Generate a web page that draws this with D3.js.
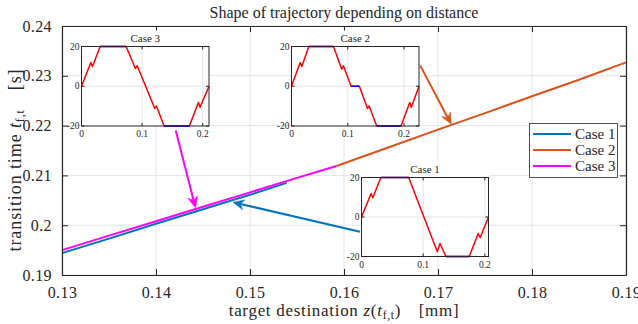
<!DOCTYPE html>
<html>
<head>
<meta charset="utf-8">
<script src="https://cdn.jsdelivr.net/npm/d3@7"></script>
<style>
  body { margin: 0; background: #fff; }
  svg { display: block; }
</style>
</head>
<body>
<svg id="chart" width="638" height="324"></svg>
<script>
// Transition time [s] against target destination [mm], one series per case
const case1Z = [0.130, 0.135, 0.140, 0.145, 0.150, 0.1539];
const case1T = [0.1944, 0.1973, 0.2003, 0.2032, 0.2061, 0.2085];
const case2Z = [0.1592, 0.165, 0.170, 0.175, 0.180, 0.185, 0.190];
const case2T = [0.2119, 0.2158, 0.2192, 0.2225, 0.2259, 0.2292, 0.2327];
const case3Z = [0.130, 0.135, 0.140, 0.145, 0.150, 0.155, 0.1592];
const case3T = [0.1950, 0.1979, 0.2008, 0.2037, 0.2066, 0.2095, 0.2119];

const seriesNames = ["Case 1", "Case 2", "Case 3"];
const seriesColors = ["#0072BD", "#D95319", "#FF00FF"];

const xTickValues = [0.13, 0.14, 0.15, 0.16, 0.17, 0.18, 0.19];
const xTickLabels = ["0.13", "0.14", "0.15", "0.16", "0.17", "0.18", "0.19"];
const yTickValues = [0.19, 0.20, 0.21, 0.22, 0.23, 0.24];
const yTickLabels = ["0.19", "0.2", "0.21", "0.22", "0.23", "0.24"];

// Trajectory shapes shown in the small panels (time [s], value)
const traj1Time = [0, 0.0156, 0.0183, 0.0313, 0.0765, 0.1229, 0.1272, 0.1369, 0.1747, 0.1892, 0.1925, 0.2059];
const traj1Val  = [0, 11.9, 9.7, 20, 20, -17.6, -13.4, -20, -20, -8.4, -10.4, 0];
const traj2Time = [0, 0.0154, 0.0183, 0.0308, 0.0746, 0.0893, 0.0923, 0.1059, 0.1207, 0.1349, 0.1379, 0.1515, 0.1947, 0.2101, 0.2130, 0.2266];
const traj2Val  = [0, 11.9, 9.9, 20, 20, 8.6, 10.3, 0, 0, -11.2, -9.9, -20, -20, -8.2, -10.6, 0];
const traj3Time = [0, 0.0154, 0.0181, 0.0308, 0.0736, 0.0890, 0.0918, 0.1209, 0.1236, 0.1363, 0.1780, 0.1929, 0.1956, 0.2104];
const traj3Val  = [0, 11.9, 9.9, 20, 20, 8.9, 10.4, -11.2, -9.9, -20, -20, -8.2, -10.6, 0];

const insetXTicks = [0, 0.1, 0.2];
const insetXLabels = ["0", "0.1", "0.2"];
const insetYTicks = [-20, 0, 20];
const insetYLabels = ["-20", "0", "20"];

// Arrow annotations in data units: [start, tip]
const arrowCase1 = [[0.1617, 0.1987], [0.1482, 0.2046]];
const arrowCase2 = [[0.1681, 0.2321], [0.1714, 0.2203]];
const arrowCase3 = [[0.1421, 0.2190], [0.1442, 0.2035]];

const W = 638, H = 324;
const m = { left: 62, right: 12, top: 26, bottom: 49 };
const FONT = '"Liberation Serif", "Times New Roman", Times, "DejaVu Serif", serif';
const svg = d3.select("#chart");

const x = d3.scaleLinear().domain([0.13, 0.19]).range([m.left, W - m.right]);
const y = d3.scaleLinear().domain([0.19, 0.24]).range([H - m.bottom, m.top]);

const axisColor = "#262626";
const gridColor = "#e3e3e3";

// grid
const grid = svg.append("g");
grid.selectAll(".gx").data(xTickValues).join("line")
  .attr("x1", d => x(d)).attr("x2", d => x(d))
  .attr("y1", m.top).attr("y2", H - m.bottom)
  .attr("stroke", gridColor).attr("stroke-width", 1);
grid.selectAll(".gy").data(yTickValues).join("line")
  .attr("x1", m.left).attr("x2", W - m.right)
  .attr("y1", d => y(d)).attr("y2", d => y(d))
  .attr("stroke", gridColor).attr("stroke-width", 1);

// series lines
const line = d3.line().x(d => x(d[0])).y(d => y(d[1]));
const series = [
  d3.zip(case1Z, case1T),
  d3.zip(case2Z, case2T),
  d3.zip(case3Z, case3T)
];
series.forEach((s, i) => {
  svg.append("path").datum(s).attr("d", line)
    .attr("fill", "none").attr("stroke", seriesColors[i])
    .attr("stroke-width", 2);
});

// axes (ticks inward on all four sides)
const tickLen = 6;
const axB = svg.append("g").attr("transform", `translate(0,${H - m.bottom})`)
  .call(d3.axisBottom(x).tickValues(xTickValues).tickFormat((d, i) => xTickLabels[i])
    .tickSizeInner(-tickLen).tickSizeOuter(0).tickPadding(12));
const axT = svg.append("g").attr("transform", `translate(0,${m.top})`)
  .call(d3.axisTop(x).tickValues(xTickValues).tickFormat("")
    .tickSizeInner(-tickLen).tickSizeOuter(0));
const axL = svg.append("g").attr("transform", `translate(${m.left},0)`)
  .call(d3.axisLeft(y).tickValues(yTickValues).tickFormat((d, i) => yTickLabels[i])
    .tickSizeInner(-tickLen).tickSizeOuter(0).tickPadding(10));
const axR = svg.append("g").attr("transform", `translate(${W - m.right},0)`)
  .call(d3.axisRight(y).tickValues(yTickValues).tickFormat("")
    .tickSizeInner(-tickLen).tickSizeOuter(0));
[axB, axT, axL, axR].forEach(a => {
  a.attr("font-family", null).attr("font-size", null);
  a.select(".domain").attr("stroke", axisColor).attr("stroke-width", 1.2);
  a.selectAll(".tick line").attr("stroke", axisColor).attr("stroke-width", 1);
  a.selectAll("text").attr("font-size", 16).attr("letter-spacing", 0.4).attr("fill", axisColor);
});

// small trajectory panels
function drawInset(time, val, box, title) {
  const g = svg.append("g");
  const ix = d3.scaleLinear().domain([0, d3.max(time)]).range([box.x, box.x + box.w]);
  const iy = d3.scaleLinear().domain([-20, 20]).range([box.y + box.h, box.y]);
  g.append("rect").attr("x", box.x - 1).attr("y", box.y - 16)
    .attr("width", box.w + 2).attr("height", 16).attr("fill", "#fff");
  g.append("rect").attr("x", box.x).attr("y", box.y)
    .attr("width", box.w).attr("height", box.h).attr("fill", "#fff");
  g.selectAll(".igx").data(insetXTicks.filter(d => d > 0)).join("line")
    .attr("x1", d => ix(d)).attr("x2", d => ix(d))
    .attr("y1", box.y).attr("y2", box.y + box.h)
    .attr("stroke", gridColor);
  g.selectAll(".igy").data([0]).join("line")
    .attr("x1", box.x).attr("x2", box.x + box.w)
    .attr("y1", d => iy(d)).attr("y2", d => iy(d))
    .attr("stroke", gridColor);
  const pts = d3.zip(time, val);
  const il = d3.line().x(d => ix(d[0])).y(d => iy(d[1]));
  g.append("path").datum(pts).attr("d", il)
    .attr("fill", "none").attr("stroke", "#ff0000").attr("stroke-width", 1.5)
    .attr("stroke-linejoin", "round");
  // constant stretches in blue
  const flats = d3.pairs(pts).filter(p => p[0][1] === p[1][1]);
  g.selectAll(".flat").data(flats).join("line")
    .attr("x1", d => ix(d[0][0])).attr("x2", d => ix(d[1][0]))
    .attr("y1", d => iy(d[0][1])).attr("y2", d => iy(d[1][1]))
    .attr("stroke", "#0000ff").attr("stroke-width", 1.5);
  // frame and ticks
  g.append("rect").attr("x", box.x).attr("y", box.y)
    .attr("width", box.w).attr("height", box.h)
    .attr("fill", "none").attr("stroke", axisColor).attr("stroke-width", 1);
  const tl = 3;
  insetXTicks.forEach((d, i) => {
    g.append("line").attr("x1", ix(d)).attr("x2", ix(d))
      .attr("y1", box.y + box.h).attr("y2", box.y + box.h - tl).attr("stroke", axisColor);
    g.append("line").attr("x1", ix(d)).attr("x2", ix(d))
      .attr("y1", box.y).attr("y2", box.y + tl).attr("stroke", axisColor);
    g.append("text").attr("x", ix(d)).attr("y", box.y + box.h + 11)
      .attr("text-anchor", "middle").attr("font-size", 9.5).text(insetXLabels[i]);
  });
  insetYTicks.forEach((d, i) => {
    g.append("line").attr("x1", box.x).attr("x2", box.x + tl)
      .attr("y1", iy(d)).attr("y2", iy(d)).attr("stroke", axisColor);
    g.append("line").attr("x1", box.x + box.w).attr("x2", box.x + box.w - tl)
      .attr("y1", iy(d)).attr("y2", iy(d)).attr("stroke", axisColor);
    g.append("text").attr("x", box.x - 2).attr("y", iy(d))
      .attr("dy", "0.33em").attr("text-anchor", "end").attr("font-size", 9.5)
      .text(insetYLabels[i]);
  });
  g.append("text").attr("x", box.x + box.w / 2).attr("y", box.y - 5)
    .attr("text-anchor", "middle").attr("font-size", 11).text(title);
}

drawInset(traj3Time, traj3Val, { x: 81.5, y: 46.5, w: 127.5, h: 79.5 }, "Case 3");
drawInset(traj2Time, traj2Val, { x: 291.5, y: 46.5, w: 127.5, h: 79.5 }, "Case 2");
drawInset(traj1Time, traj1Val, { x: 361.5, y: 177.5, w: 127, h: 79 }, "Case 1");

// arrows
function drawArrow(a, color) {
  const x0 = x(a[0][0]), y0 = y(a[0][1]), x1 = x(a[1][0]), y1 = y(a[1][1]);
  const ang = Math.atan2(y1 - y0, x1 - x0);
  const len = 11, half = 5, back = 7.5;
  const ux = Math.cos(ang), uy = Math.sin(ang);
  const px = -uy, py = ux;
  const bx = x1 - ux * len, by = y1 - uy * len;
  const nx = x1 - ux * back, ny = y1 - uy * back;
  svg.append("line").attr("x1", x0).attr("y1", y0).attr("x2", nx).attr("y2", ny)
    .attr("stroke", color).attr("stroke-width", 2);
  svg.append("path")
    .attr("d", `M${x1},${y1} L${bx + px * half},${by + py * half} L${nx},${ny} L${bx - px * half},${by - py * half} Z`)
    .attr("fill", color).attr("stroke", color).attr("stroke-width", 0.5);
}
drawArrow(arrowCase1, seriesColors[0]);
drawArrow(arrowCase2, seriesColors[1]);
drawArrow(arrowCase3, seriesColors[2]);

// legend
const lg = svg.append("g");
lg.append("rect").attr("x", 529.5).attr("y", 123.5).attr("width", 88).attr("height", 54)
  .attr("fill", "#fff").attr("stroke", axisColor).attr("stroke-width", 0.8);
seriesNames.forEach((name, i) => {
  const ly = 134 + i * 16;
  lg.append("line").attr("x1", 533).attr("x2", 571).attr("y1", ly).attr("y2", ly)
    .attr("stroke", seriesColors[i]).attr("stroke-width", 2);
  lg.append("text").attr("x", 575).attr("y", ly).attr("dy", "0.33em")
    .attr("font-size", 15).text(name);
});

// title and axis labels
svg.append("text").attr("x", (m.left + W - m.right) / 2).attr("y", 18)
  .attr("text-anchor", "middle").attr("font-size", 16)
  .text("Shape of trajectory depending on distance");

const xl = svg.append("text").attr("x", (m.left + W - m.right) / 2).attr("y", 316)
  .attr("text-anchor", "middle").attr("font-size", 17).attr("letter-spacing", 0.7);
xl.append("tspan").text("target destination ");
xl.append("tspan").attr("font-style", "italic").text("z");
xl.append("tspan").text("(");
xl.append("tspan").attr("font-style", "italic").text("t");
xl.append("tspan").attr("font-size", 11.5).attr("dy", 3).text("f,t");
xl.append("tspan").attr("dy", -3).text(")\u2003[mm]");

const yl = svg.append("text")
  .attr("transform", `translate(21,160) rotate(-90)`)
  .attr("text-anchor", "middle").attr("font-size", 18).attr("letter-spacing", 0.9);
yl.append("tspan").text("transition time ");
yl.append("tspan").attr("font-style", "italic").text("t");
yl.append("tspan").attr("font-size", 12).attr("dy", 3).text("f,t");
yl.append("tspan").attr("dy", -3).text("\u2003[s]");

// serif typeface on every label
svg.selectAll("text").style("font-family", FONT).style("fill", axisColor);
</script>
</body>
</html>
